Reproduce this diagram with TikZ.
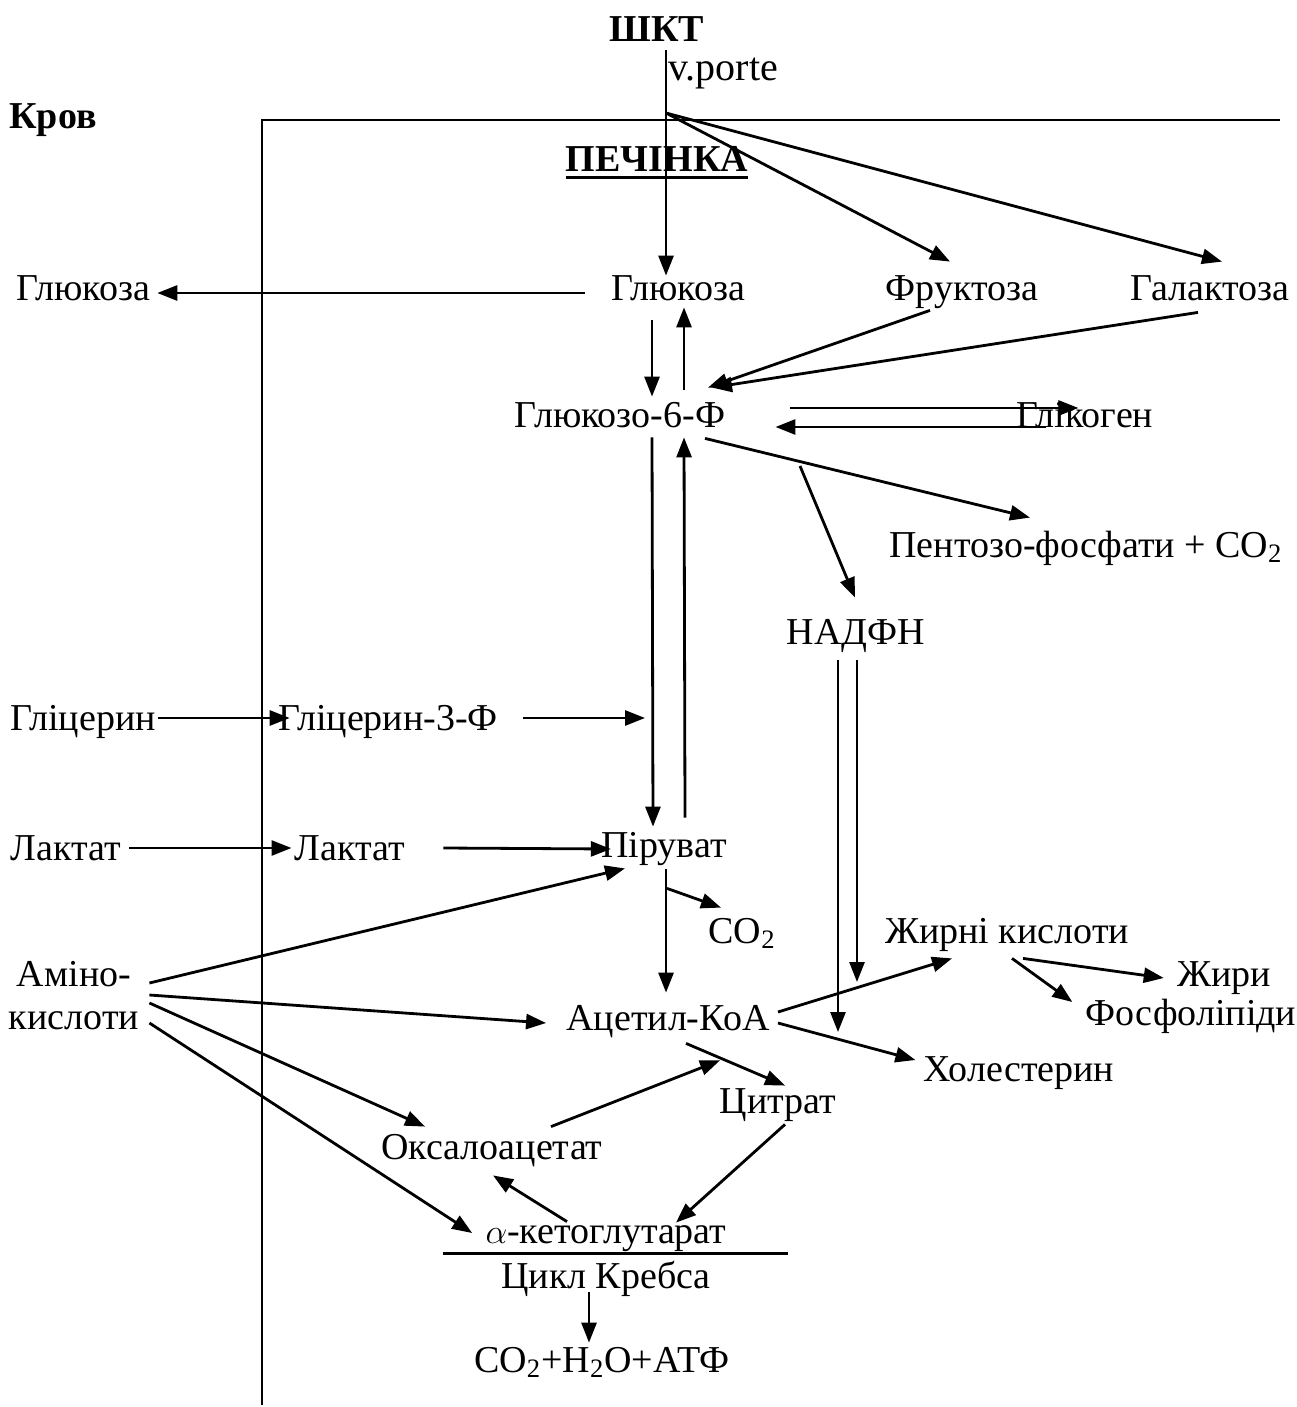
\documentclass[tikz,border=0pt]{standalone}
\usepackage{fontspec}
\setmainfont{Liberation Serif}
\usetikzlibrary{arrows.meta}
\begin{document}
\begin{tikzpicture}[x=0.5pt,y=-0.5pt,
  font=\fontsize{19}{21.5}\selectfont,
  lbl/.style={inner sep=0pt,text height=12pt,text depth=0pt},
  hdr/.style={lbl,font=\fontsize{19}{21.5}\selectfont\bfseries},
  arr/.style={line width=1.4pt,-{Triangle[length=10pt,width=7.5pt]}},
  border/.style={line width=0.9pt}]
 \useasboundingbox (0,0) rectangle (1296,1407);
 % headings and borders
 \node[hdr] (shkt) at (657,30) {ШКТ};
 \node[anchor=base west,inner sep=0pt,font=\fontsize{20}{22}\selectfont] (vporte) at (668,81) {v.porte};
 \node[hdr] (krov) at (53,117) {Кров};
 \node[hdr] (pech) at (657,160) {ПЕЧІНКА};
 \draw[line width=1.4pt] ([shift={(0,5)}]pech.south west) -- ([shift={(0,5)}]pech.south east);
 \draw[border] (262,1405) -- (262,120) -- (1280,120);
 \coordinate (vp) at (666,113);
 % substances
 \node[lbl] (glb) at (83,288) {Глюкоза};
 \node[lbl] (gl) at (678,288) {Глюкоза};
 \node[lbl] (fru) at (962,288) {Фруктоза};
 \node[lbl] (gal) at (1210,288) {Галактоза};
 \node[lbl] (g6f) at (620,415) {Глюкозо-6-Ф};
 \node[lbl] (glyc) at (1085,415) {Глікоген};
 \node[lbl] (pent) at (1086,545) {Пентозо-фосфати + CO\textsubscript{2}};
 \node[lbl] (nadph) at (856,632) {НАДФН};
 \node[lbl] (glr) at (83,718) {Гліцерин};
 \node[lbl] (g3f) at (388,718) {Гліцерин-3-Ф};
 \node[lbl] (lakb) at (66,848) {Лактат};
 \node[lbl] (lak) at (350,848) {Лактат};
 \node[lbl] (pir) at (664,845) {Піруват};
 \node[lbl] (co2a) at (742,931) {CO\textsubscript{2}};
 \node[inner sep=0pt,align=center] (amino) at (74,996) {Аміно-\\кислоти};
 \node[lbl] (acoa) at (668,1018) {Ацетил-КоА};
 \node[lbl] (fa) at (1007,931) {Жирні кислоти};
 \node[lbl] (fat) at (1224,974) {Жири};
 \node[lbl] (phl) at (1191,1013) {Фосфоліпіди};
 \node[lbl] (chol) at (1019,1069) {Холестерин};
 \node[lbl] (cit) at (778,1101) {Цитрат};
 \node[lbl] (oxa) at (492,1147) {Оксалоацетат};
 \node[lbl] (akg) at (606,1231) {$\alpha$-кетоглутарат};
 \node[lbl] (krebs) at (606,1276) {Цикл Кребса};
 \node[lbl] (final) at (602,1360) {CO\textsubscript{2}+H\textsubscript{2}O+АТФ};
 \coordinate (nb) at (800,466);
 \coordinate (nadphend) at (838,1032);
 \coordinate (nadphfa) at (857,982);
 \coordinate (g3fend) at (645,718);
 % connectors
 \draw[arr] ([shift={(9,8)}]shkt.south) -- ([shift={(-12,0)}]gl.north);
 \draw[arr] (vp) -- ([shift={(-12,-14)}]fru.north);
 \draw[arr] (vp) -- ([shift={(12,-14)}]gal.north);
 \draw[arr] ([shift={(-26,5)}]gl.west) -- ([shift={(7,5)}]glb.east);
 \draw[arr] ([shift={(-26,20)}]gl.south) -- ([shift={(32,-6)}]g6f.north);
 \draw[arr] ([shift={(64,-13)}]g6f.north) -- ([shift={(6,7)}]gl.south);
 \draw[arr] ([shift={(-32,10)}]fru.south) -- ([shift={(88,-15)}]g6f.north);
 \draw[arr] ([shift={(-12,12)}]gal.south) -- ([shift={(92,-15)}]g6f.north);
 \draw[arr] ([shift={(65,-7)}]g6f.east) -- ([shift={(62,-7)}]glyc.west);
 \draw[arr] ([shift={(30,12)}]glyc.west) -- ([shift={(50,12)}]g6f.east);
 \draw[arr] ([shift={(85,11)}]g6f.south) -- ([shift={(-56,-15)}]pent.north);
 \draw[arr] (nb) -- ([shift={(-1,-22)}]nadph.north);
 \draw[arr] ([shift={(-18,16)}]nadph.south) -- (nadphend);
 \draw[arr] ([shift={(1,16)}]nadph.south) -- (nadphfa);
 \draw[arr] ([shift={(2,0)}]glr.east) -- ([shift={(12,0)}]g3f.west);
 \draw[arr] ([shift={(25,0)}]g3f.east) -- (g3fend);
 \draw[arr] ([shift={(32,10)}]g6f.south) -- ([shift={(-11,-6)}]pir.north);
 \draw[arr] ([shift={(21,-15)}]pir.north) -- ([shift={(64,10)}]g6f.south);
 \draw[arr] ([shift={(8,0)}]lakb.east) -- ([shift={(-3,0)}]lak.west);
 \draw[arr] ([shift={(38,0)}]lak.east) -- ([shift={(10,4)}]pir.west);
 \draw[arr] ([shift={(3,31)}]pir.south) -- ([shift={(-21,-11)}]co2a.north);
 \draw[arr] ([shift={(2,12)}]pir.south) -- ([shift={(-2,-13)}]acoa.north);
 \draw[arr] ([shift={(10,-13)}]amino.east) -- ([shift={(-39,11)}]pir.south);
 \draw[arr] ([shift={(10,-1)}]amino.east) -- ([shift={(-20,5)}]acoa.west);
 \draw[arr] ([shift={(10,7)}]amino.east) -- ([shift={(-67,-8)}]oxa.north);
 \draw[arr] ([shift={(10,27)}]amino.east) -- ([shift={(-13,2)}]akg.west);
 \draw[arr] ([shift={(8,-6)}]acoa.east) -- ([shift={(-55,15)}]fa.south);
 \draw[arr] ([shift={(16,15)}]fa.south) -- ([shift={(-13,4)}]fat.west);
 \draw[arr] ([shift={(5,15)}]fa.south) -- ([shift={(-13,-11)}]phl.west);
 \draw[arr] ([shift={(8,5)}]acoa.east) -- ([shift={(-8,-9)}]chol.west);
 \draw[arr] ([shift={(18,13)}]acoa.south) -- ([shift={(7,-3)}]cit.north);
 \draw[arr] ([shift={(59,-8)}]oxa.north) -- ([shift={(52,30)}]acoa.south);
 \draw[arr] ([shift={(7,11)}]cit.south) -- ([shift={(70,4)}]akg.north);
 \draw[arr] ([shift={(-39,3)}]akg.north) -- ([shift={(1,16)}]oxa.south);
 \draw[line width=1.1pt] ([shift={(-163,10)}]akg.south) -- ([shift={(182,10)}]akg.south);
 \draw[arr] ([shift={(-17,4)}]krebs.south) -- ([shift={(-13,-5)}]final.north);
\end{tikzpicture}
\end{document}
